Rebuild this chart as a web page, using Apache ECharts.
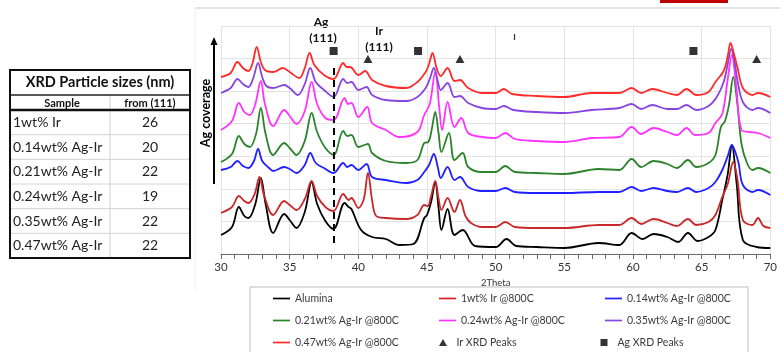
<!DOCTYPE html>
<html><head><meta charset="utf-8">
<script src="https://cdn.jsdelivr.net/npm/echarts@6/dist/echarts.min.js"></script>
<style>html,body{margin:0;padding:0;background:#fff}#c{width:780px;height:352px}</style>
</head><body><div id="c"></div>
<script>
// ---- data (2Theta, intensity a.u., curves offset vertically) ----
const seriesNames = ['Alumina','1wt% Ir @800C','0.14wt% Ag-Ir @800C','0.21wt% Ag-Ir @800C','0.24wt% Ag-Ir @800C','0.35wt% Ag-Ir @800C','0.47wt% Ag-Ir @800C'];
const seriesColors = ['#000000','#c8282a','#1f1fff','#2b832b','#ff33ff','#8844e0','#ff2a2a'];
const legendColors = ['#000000','#e02020','#1f1fff','#2b832b','#ff33ff','#8844e0','#ff2a2a'];

const alumina = [[30,19],[30.8,27],[31.3,47],[31.7,38],[32.0,36],[32.5,50],[32.9,76],[33.25,50],[33.8,21],[34.6,40],[35.0,34],[35.5,26],[36.1,42],[36.6,72],[37.0,50],[37.6,33],[38.2,25],[39.0,51],[39.3,47],[39.5,45],[40.2,24],[41.0,17],[42.0,15],[43.0,9],[44.0,10],[44.8,36],[45.0,39],[45.3,52],[45.6,72],[45.85,45],[46.05,24],[46.5,45],[47.0,19],[47.6,24],[48.5,8],[50.0,7],[50.8,15],[51.5,8],[53,7],[55,6],[57.5,11],[59,9],[59.9,21],[60.7,15],[61.5,20],[62.5,17],[63.3,12],[64.0,21],[64.7,13],[65.5,17],[66.0,24],[66.5,54],[66.9,80],[67.2,109],[67.55,70],[68.0,14],[69.0,7],[70,6]];
const ir1 = [[30,41],[30.8,47],[31.3,58],[31.7,53],[32.0,51],[32.45,60],[32.8,77],[33.15,58],[33.8,39],[34.6,53],[35.0,49],[35.5,44],[36.1,55],[36.6,73],[37.0,58],[37.6,47],[38.2,43],[38.9,60],[39.3,54],[39.5,56],[40.0,46],[40.4,55],[40.7,81],[41.0,54],[41.3,38],[42.0,36],[43.5,35],[44.3,39],[44.8,49],[45.05,48],[45.3,58],[45.6,73],[45.85,55],[46.05,44],[46.5,56],[47.0,42],[47.4,54],[47.8,38],[48.2,31],[49.0,27],[50.0,27],[50.7,32],[51.4,27],[53,26],[55,26],[57.5,29],[59,29],[59.9,36],[60.6,30],[61.5,35],[62.5,31],[63.2,28],[64.0,35],[64.6,29],[65.5,32],[66.0,39],[66.5,57],[66.9,70],[67.3,92],[67.6,75],[68.0,34],[68.7,29],[69.1,36],[69.5,28],[70,26]];
const agir014 = [[30,84],[30.7,87],[31.2,93],[31.6,88],[32.0,86],[32.4,93],[32.7,105],[33.0,93],[33.5,86],[33.8,83],[34.6,87],[35.0,85],[35.5,81],[36.1,89],[36.5,101],[36.9,91],[37.5,86],[38.2,81],[38.9,91],[39.2,87],[39.5,89],[40.0,84],[40.6,90],[41.0,77],[42.0,74],[43.5,71],[44.3,74],[44.8,82],[45.15,89],[45.5,100],[45.8,86],[46.0,76],[46.5,87],[47.0,74],[47.4,77],[48.0,67],[49.0,63],[50.0,63],[50.7,66],[51.4,62],[53,61],[55,61],[57.5,62],[59,62],[59.9,67],[60.6,63],[61.5,66],[62.5,63],[63.2,62],[64.0,66],[64.6,62],[65.5,66],[66.0,72],[66.5,84],[66.9,98],[67.2,109],[67.5,100],[67.7,90],[68.0,69],[68.7,62],[69.1,64],[70,59]];
const agir021 = [[30,92],[30.8,100],[31.3,118],[31.7,110],[32.1,107],[32.55,120],[32.9,146],[33.25,120],[33.8,99],[34.6,111],[35.0,106],[35.5,99],[36.1,113],[36.6,141],[37.0,122],[37.6,106],[38.2,99],[38.9,123],[39.2,118],[39.5,119],[40.0,107],[40.7,110],[41.0,101],[42.0,93],[43.5,91],[44.3,94],[44.8,111],[45.1,112],[45.35,125],[45.6,142],[45.85,120],[46.05,102],[46.6,121],[47.0,94],[47.6,101],[48.0,87],[49.0,82],[50.0,82],[50.7,88],[51.4,82],[53,81],[55,80],[57.5,85],[59,84],[59.9,95],[60.6,87],[61.5,93],[62.5,90],[63.2,86],[64.0,94],[64.6,87],[65.5,91],[66.0,99],[66.4,127],[66.7,133],[67.0,150],[67.3,177],[67.6,150],[67.9,110],[68.3,91],[68.7,84],[69.1,86],[70,81]];
const agir024 = [[30,124],[30.8,133],[31.3,151],[31.7,142],[32.1,139],[32.5,150],[32.9,173],[33.2,150],[33.8,128],[34.6,144],[35.0,138],[35.5,130],[36.1,143],[36.6,172],[37.0,150],[37.6,136],[38.2,134],[39.0,156],[39.25,150],[39.5,151],[40.0,137],[40.65,147],[41.0,131],[42.0,124],[43.0,117],[44.3,122],[44.8,139],[45.2,150],[45.6,182],[45.9,145],[46.1,124],[46.5,152],[47.0,127],[47.5,136],[48.0,121],[49.0,117],[50.0,116],[50.7,121],[51.4,115],[53,113],[55,112],[57,116],[59,117],[59.9,127],[60.6,120],[61.5,126],[62.5,122],[63.2,119],[63.9,126],[64.5,119],[65.5,121],[66.0,131],[66.5,140],[66.9,175],[67.2,199],[67.5,170],[67.9,124],[68.5,122],[69.1,121],[70,116]];
const agir035 = [[30,161],[30.7,166],[31.2,175],[31.6,170],[32.0,167],[32.35,176],[32.7,191],[33.0,177],[33.3,168],[33.8,166],[34.6,169],[35.0,166],[35.6,159],[36.1,170],[36.5,186],[36.9,172],[37.5,164],[38.2,157],[38.9,175],[39.2,171],[39.5,172],[40.0,164],[40.6,167],[41.0,159],[42.0,154],[43.5,153],[44.3,157],[44.9,166],[45.2,175],[45.5,186],[45.8,172],[46.0,164],[46.5,171],[47.0,157],[47.4,158],[48.0,151],[49.0,146],[50.0,145],[50.6,148],[51.3,144],[53,142],[55,141],[57,144],[59,146],[59.9,150],[60.6,145],[61.4,149],[62.5,145],[63.2,145],[63.9,149],[64.6,144],[65.5,148],[66.1,157],[66.6,172],[66.9,190],[67.15,205],[67.4,192],[67.6,174],[68.0,152],[68.7,144],[69.1,146],[70,141]];
const agir047 = [[30,177],[30.7,181],[31.2,192],[31.6,186],[32.0,183],[32.3,191],[32.6,207],[32.9,192],[33.2,184],[33.8,182],[34.5,186],[35.0,182],[35.7,176],[36.1,186],[36.45,201],[36.8,189],[37.5,179],[38.2,175],[38.9,191],[39.15,187],[39.4,187],[40.0,179],[40.5,183],[41.0,174],[42.0,168],[43.5,166],[44.3,172],[44.9,182],[45.15,190],[45.4,201],[45.7,186],[46.0,178],[46.5,186],[47.0,173],[47.4,174],[48.0,166],[49.0,161],[50.0,161],[50.6,165],[51.2,160],[53,158],[55,157],[57,161],[59,161],[59.9,166],[60.6,161],[61.4,165],[62.5,161],[63.2,159],[63.9,165],[64.6,159],[65.5,162],[66.0,172],[66.6,183],[66.9,198],[67.1,211],[67.35,200],[67.6,187],[68.0,166],[68.7,159],[69.1,161],[70,157]];
const curves = [alumina, ir1, agir014, agir021, agir024, agir035, agir047];

const irPeaks = [[40.7,195],[47.4,195],[69.0,195]];
const agPeaks = [[38.2,203],[44.35,203],[64.4,203]];
const ag111Line = {x: 38.2, from: 11, to: 189};

const xTicks = {min: 30, max: 70, step: 5};
const yRange = {min: 0, max: 228, steps: 7};

const tableTitle = 'XRD Particle sizes (nm)';
const tableHeaders = ['Sample', 'from (111)'];
const tableSamples = ['1wt% Ir','0.14wt% Ag-Ir','0.21wt% Ag-Ir','0.24wt% Ag-Ir','0.35wt% Ag-Ir','0.47wt% Ag-Ir'];
const tableSizes = ['26','20','22','19','22','22'];

// ---- chart ----
const FONT = 'Lato, "Noto Sans", sans-serif';
const chart = echarts.init(document.getElementById('c'));

const lineSeries = seriesNames.map((n, i) => ({
  name: n, type: 'line', data: curves[i], symbol: 'none', smooth: 0.35,
  color: legendColors[i],
  lineStyle: {color: seriesColors[i], width: 1.8},
  z: 3, silent: true
}));

// table graphic
const tg = [];
const tL = 10, tR = 190, tT = 70, tTitleB = 95, tHeadB = 110, tB = 258, tCol = 110;
const rowH = (tB - tHeadB) / tableSamples.length;
for (let i = 1; i < tableSamples.length; i++) {
  tg.push({type:'line', shape:{x1:tL, y1:tHeadB + i*rowH, x2:tR, y2:tHeadB + i*rowH}, style:{stroke:'#d4d4d4', lineWidth:1}});
}
tg.push({type:'line', shape:{x1:tCol, y1:tTitleB, x2:tCol, y2:tB}, style:{stroke:'#cfcfcf', lineWidth:1}});
tg.push({type:'line', shape:{x1:tL, y1:tTitleB, x2:tR, y2:tTitleB}, style:{stroke:'#222', lineWidth:1.5}});
tg.push({type:'line', shape:{x1:tL, y1:tHeadB, x2:tR, y2:tHeadB}, style:{stroke:'#111', lineWidth:2.5}});
tg.push({type:'rect', shape:{x:tL, y:tT, width:tR-tL, height:tB-tT}, style:{fill:'none', stroke:'#111', lineWidth:2}});
tg.push({type:'text', x:(tL+tR)/2, y:(tT+tTitleB)/2, style:{text:tableTitle, font:'bold 14.5px '+FONT, fill:'#111', align:'center', verticalAlign:'middle'}});
tg.push({type:'text', x:62, y:(tTitleB+tHeadB)/2+0.5, style:{text:tableHeaders[0], font:'bold 11px '+FONT, fill:'#111', align:'center', verticalAlign:'middle'}});
tg.push({type:'text', x:150, y:(tTitleB+tHeadB)/2+0.5, style:{text:tableHeaders[1], font:'bold 11px '+FONT, fill:'#111', align:'center', verticalAlign:'middle'}});
tableSamples.forEach((s, i) => {
  const cy = tHeadB + (i+0.5)*rowH;
  tg.push({type:'text', x:13, y:cy, style:{text:s, font:'14px '+FONT, fill:'#222', align:'left', verticalAlign:'middle'}});
  tg.push({type:'text', x:150, y:cy, style:{text:tableSizes[i], font:'14px '+FONT, fill:'#222', align:'center', verticalAlign:'middle'}});
});

const deco = [
  {type:'line', shape:{x1:195, y1:8, x2:780, y2:8}, style:{stroke:'#e4e4e4', lineWidth:2}},
  {type:'line', shape:{x1:195, y1:8, x2:195, y2:290}, style:{stroke:'#efefef', lineWidth:1}},
  {type:'rect', shape:{x:660, y:-1, width:68, height:4}, style:{fill:'#c00000'}},
  // Ag coverage arrow
  {type:'line', shape:{x1:214, y1:184, x2:214, y2:44}, style:{stroke:'#000', lineWidth:2}},
  {type:'polygon', shape:{points:[[214,37],[210.5,45],[217.5,45]]}, style:{fill:'#000'}},
  {type:'text', x:206, y:113, rotation:Math.PI/2, style:{text:'Ag coverage', font:'bold 12.5px '+FONT, fill:'#000', align:'center', verticalAlign:'middle'}},
  // peak labels
  {type:'text', x:321, y:22, style:{text:'Ag', font:'bold 12px '+FONT, fill:'#111', align:'center', verticalAlign:'middle'}},
  {type:'text', x:323, y:38, style:{text:'(111)', font:'bold 12px '+FONT, fill:'#111', align:'center', verticalAlign:'middle'}},
  {type:'text', x:379, y:31, style:{text:'Ir', font:'bold 12px '+FONT, fill:'#111', align:'center', verticalAlign:'middle'}},
  {type:'text', x:379, y:47, style:{text:'(111)', font:'bold 12px '+FONT, fill:'#111', align:'center', verticalAlign:'middle'}},
  {type:'line', shape:{x1:514.5, y1:34, x2:514.5, y2:40}, style:{stroke:'#333', lineWidth:1.2}},
  // legend box
  {type:'rect', shape:{x:250, y:287, width:498, height:80}, style:{fill:'none', stroke:'#bdbdbd', lineWidth:1}}
];

const lineIcon = 'path://M0 0H20V2H0Z';
const legendData = seriesNames.map(n => ({name: n, icon: lineIcon}))
  .concat([{name: 'Ir XRD Peaks', icon: 'path://M4 0L8 7H0Z'}, {name: 'Ag XRD Peaks', icon: 'path://M0 0H7V7H0Z'}]);

chart.setOption({
  animation: false,
  backgroundColor: '#fff',
  textStyle: {fontFamily: FONT},
  grid: {left: 221, right: 7, top: 26, bottom: 98, containLabel: false},
  xAxis: {
    type: 'value', min: xTicks.min, max: xTicks.max, interval: xTicks.step,
    name: '2Theta', nameLocation: 'middle', nameGap: 24,
    nameTextStyle: {fontSize: 9.5, color: '#333', fontFamily: FONT},
    axisLine: {show: true, onZero: false, lineStyle: {color: '#6a6a6a', width: 1}},
    axisTick: {show: true, length: 5, lineStyle: {color: '#6a6a6a'}},
    minorTick: {show: true, splitNumber: 5, length: 5, lineStyle: {color: '#6a6a6a'}},
    axisLabel: {fontSize: 11.5, color: '#333', margin: 7, fontFamily: FONT},
    splitLine: {show: true, lineStyle: {color: '#e3e3e3', width: 1}}
  },
  yAxis: {
    type: 'value', min: yRange.min, max: yRange.max, interval: (yRange.max - yRange.min) / yRange.steps,
    axisLine: {show: false}, axisTick: {show: false}, axisLabel: {show: false},
    splitLine: {show: true, lineStyle: {color: '#e3e3e3', width: 1}}
  },
  legend: {
    left: 273, top: 292, width: 510, padding: 0,
    itemWidth: 17, itemHeight: 7, itemGap: 9, symbolKeepAspect: true,
    textStyle: {fontSize: 10.5, color: '#3a3a3a', width: 135, lineHeight: 13, fontFamily: FONT, overflow: 'truncate'},
    data: legendData
  },
  graphic: tg.concat(deco),
  series: lineSeries.concat([
    {name: 'Ir XRD Peaks', type: 'scatter', data: irPeaks, symbol: 'triangle', symbolSize: [9, 8], itemStyle: {color: '#000'}, z: 5, silent: true},
    {name: 'Ag XRD Peaks', type: 'scatter', data: agPeaks, symbol: 'rect', symbolSize: 8, itemStyle: {color: '#000'}, z: 5, silent: true,
      markLine: {silent: true, symbol: ['none', 'none'], label: {show: false},
        lineStyle: {color: '#000', type: [7, 5], width: 2},
        data: [[{coord: [ag111Line.x, ag111Line.from]}, {coord: [ag111Line.x, ag111Line.to]}]]}}
  ])
});
</script></body></html>
